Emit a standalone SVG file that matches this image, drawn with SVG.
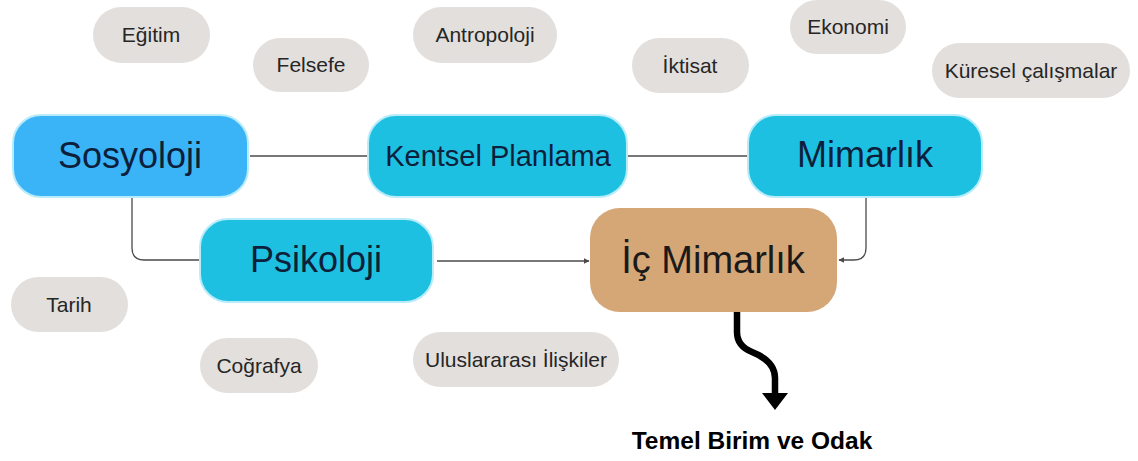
<svg xmlns="http://www.w3.org/2000/svg" width="1138" height="461" viewBox="0 0 1138 461">
<style>
.pill{fill:#e3dfdc}
.pt{font-family:"Liberation Sans",Arial,sans-serif;font-size:21px;fill:#262626;text-anchor:middle}
.box{stroke:#b8ecfa;stroke-width:2}
.bt{font-family:"Liberation Sans",Arial,sans-serif;fill:#0d1f3a;text-anchor:middle}
.con{fill:none;stroke:#4a4a4a;stroke-width:1.3}
</style>
<defs>
<marker id="ah" viewBox="0 0 10 10" refX="9" refY="5" markerWidth="6" markerHeight="6" markerUnits="userSpaceOnUse" orient="auto">
<path d="M0,0 L10,5 L0,10 Z" fill="#4a4a4a"/>
</marker>
</defs>
<rect width="1138" height="461" fill="#ffffff"/>

<g id="connectors">
<path class="con" d="M250,156 H367"/>
<path class="con" d="M628,156 H747"/>
<path class="con" d="M132,198 V248 Q132,260 144,260 H200"/>
<path class="con" d="M437,261 H589" marker-end="url(#ah)"/>
<path class="con" d="M866,198 V248 Q866,260 854,260 H839" marker-end="url(#ah)"/>
<path d="M737,312 V332 Q737,346 752,352 Q775,361 775,378 V394" fill="none" stroke="#000" stroke-width="6.5"/>
<path d="M762,393 L788,393 L775,410 Z" fill="#000"/>
</g>

<g id="egitim"><rect class="pill" x="93" y="7" width="117" height="56" rx="28"/><text class="pt" x="151" y="42">Eğitim</text></g>
<g id="felsefe"><rect class="pill" x="253" y="38" width="116" height="54" rx="27"/><text class="pt" x="311" y="72">Felsefe</text></g>
<g id="antropoloji"><rect class="pill" x="413" y="7" width="144" height="56" rx="28"/><text class="pt" x="485" y="42">Antropoloji</text></g>
<g id="iktisat"><rect class="pill" x="632" y="38" width="117" height="55" rx="27.5"/><text class="pt" x="690" y="73">İktisat</text></g>
<g id="ekonomi"><rect class="pill" x="790" y="0" width="116" height="54" rx="27"/><text class="pt" x="848" y="34">Ekonomi</text></g>
<g id="kuresel"><rect class="pill" x="932" y="43" width="198" height="55" rx="27.5"/><text class="pt" x="1031" y="78">Küresel çalışmalar</text></g>
<g id="tarih"><rect class="pill" x="11" y="277" width="117" height="55" rx="27.5"/><text class="pt" x="69" y="312">Tarih</text></g>
<g id="cografya"><rect class="pill" x="200" y="338" width="118" height="55" rx="27.5"/><text class="pt" x="259" y="373">Coğrafya</text></g>
<g id="uluslararasi"><rect class="pill" x="413" y="332" width="206" height="55" rx="27.5"/><text class="pt" x="516" y="367">Uluslararası İlişkiler</text></g>

<g id="sosyoloji"><rect class="box" x="13" y="115" width="235" height="82" rx="28" fill="#3ab3f7"/><text class="bt" x="130" y="168" font-size="36">Sosyoloji</text></g>
<g id="kentsel"><rect class="box" x="368" y="115" width="259" height="82" rx="28" fill="#1ec0e2"/><text class="bt" x="498" y="166" font-size="29">Kentsel Planlama</text></g>
<g id="mimarlik"><rect class="box" x="748" y="115" width="234" height="82" rx="28" fill="#1ec0e2"/><text class="bt" x="865" y="167" font-size="36">Mimarlık</text></g>
<g id="psikoloji"><rect class="box" x="200" y="219" width="233" height="83" rx="28" fill="#1ec0e2"/><text class="bt" x="316" y="272" font-size="36">Psikoloji</text></g>
<g id="icmimarlik"><rect x="590" y="208" width="247" height="104" rx="30" fill="#d5a676"/><text class="bt" x="713" y="273" font-size="38" fill="#1a1a1a" style="fill:#1a1a1a">İç Mimarlık</text></g>

<g id="temel"><text x="752" y="449" font-family="'Liberation Sans',Arial,sans-serif" font-size="24.5" font-weight="bold" fill="#000" text-anchor="middle">Temel Birim ve Odak</text></g>
</svg>
